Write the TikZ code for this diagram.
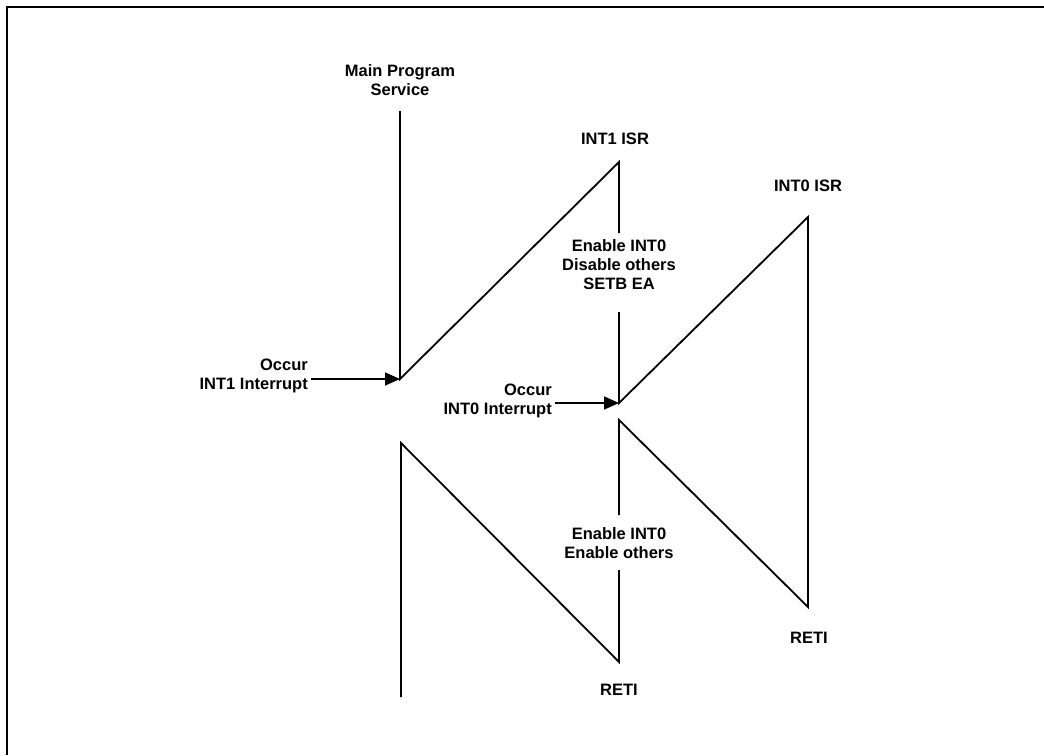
\documentclass[tikz,border=0pt]{standalone}
\usepackage{fontspec}
\setmainfont{Liberation Sans}
\usetikzlibrary{arrows.meta}
\begin{document}
\begin{tikzpicture}[x=1pt,y=-1pt,
  ln/.style={line width=1.8pt},
  lbl/.style={font=\bfseries\fontsize{16.5}{19}\selectfont, align=center, inner sep=0pt},
  arr/.style={line width=1.6pt, -{Triangle[length=15pt,width=13pt]}}]
\useasboundingbox (0,0) rectangle (1044,755);
\draw[line width=2.2pt] (7,755) -- (7,7) -- (1044,7);
% path corners
\coordinate (m0) at (400,111);
\coordinate (m1) at (400,379);
\coordinate (a1) at (619,162);
\coordinate (a1b) at (619,233);
\coordinate (a2t) at (619,312);
\coordinate (a2) at (619,403);
\coordinate (b1) at (808,217);
\coordinate (b2) at (808,607);
\coordinate (c1) at (619,420);
\coordinate (c1b) at (619,515);
\coordinate (c2t) at (619,570);
\coordinate (c2) at (619,662);
\coordinate (d1) at (401,443);
\coordinate (d2) at (401,697);
% labels
\node[lbl] (main) at (400,80) {Main Program\\Service};
\node[lbl] (int1) at (615,139) {INT1 ISR};
\node[lbl] (int0) at (808,186) {INT0 ISR};
\node[lbl] (en1) at (619,265) {Enable INT0\\Disable others\\SETB EA};
\node[lbl] (en2) at (619,543) {Enable INT0\\Enable others};
\node[lbl] (reti1) at (619,690) {RETI};
\node[lbl] (reti2) at (809,638) {RETI};
\node[lbl, align=right, anchor=east] (occ1) at (308,376) {Occur\\INT1 Interrupt};
\node[lbl, align=right, anchor=east] (occ0) at (552,401) {Occur\\INT0 Interrupt};
% main program and INT1 ISR
\draw[ln, line join=miter] (m0) -- (m1) -- (a1) -- (a1b);
\draw[ln, line join=miter] (a2t) -- (a2) -- (b1) -- (b2) -- (c1) -- (c1b);
\draw[ln, line join=miter] (c2t) -- (c2) -- (d1) -- (d2);
% interrupt arrows
\draw[arr] ([xshift=3pt]occ1.east |- m1) -- (m1);
\draw[arr] ([xshift=3pt]occ0.east |- a2) -- (a2);
\end{tikzpicture}
\end{document}
